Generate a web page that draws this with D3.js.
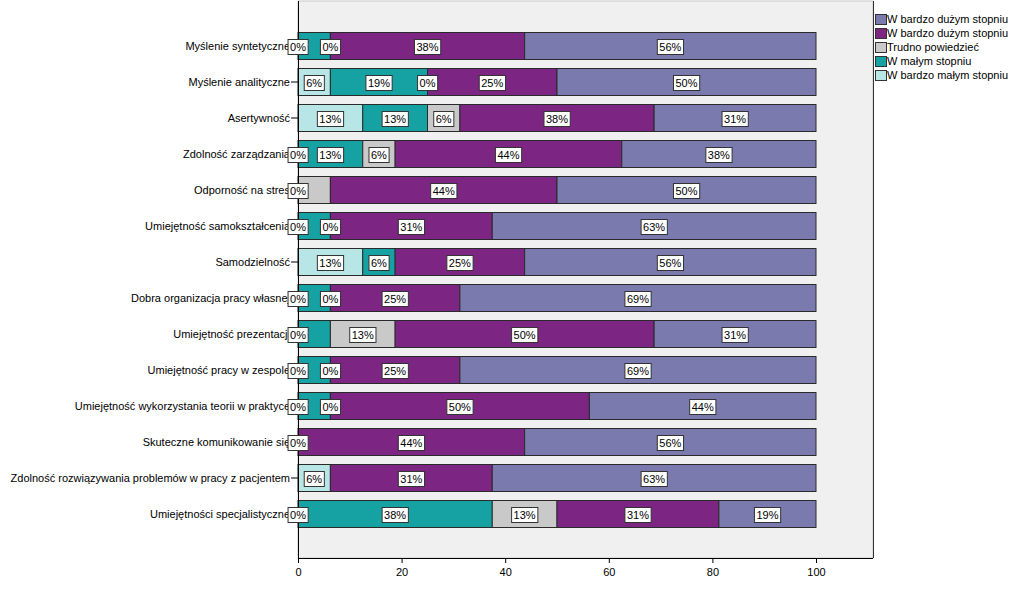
<!DOCTYPE html>
<html><head><meta charset="utf-8">
<script src="https://cdn.jsdelivr.net/npm/d3@7"></script>
<style>body{margin:0;background:#fff}svg{display:block;font-family:"Liberation Sans",Arial,sans-serif}</style>
</head><body><svg id="c" width="1011" height="613"></svg>
<script>
const categories = ["Myślenie syntetyczne","Myślenie analityczne","Asertywność","Zdolność zarządzania","Odporność na stres","Umiejętność samokształcenia","Samodzielność","Dobra organizacja pracy własnej","Umiejętność prezentacji","Umiejętność pracy w zespole","Umiejętność wykorzystania teorii w praktyce","Skuteczne komunikowanie się","Zdolność rozwiązywania problemów w pracy z pacjentem","Umiejętności specjalistyczne"];
const seriesNames = ["W bardzo małym stopniu","W małym stopniu","Trudno powiedzieć","W bardzo dużym stopniu","W bardzo dużym stopniu"];
const seriesColors = ["#b8e6e6","#16a2a2","#c9c9c9","#7c2583","#7a7aae"];
const bardzoMalym = [0,6.25,12.5,0,0,0,12.5,0,0,0,0,0,6.25,0];
const malym =       [6.25,18.75,12.5,12.5,0,6.25,6.25,6.25,6.25,6.25,6.25,0,0,37.5];
const trudno =      [0,0,6.25,6.25,6.25,0,0,0,12.5,0,0,0,0,12.5];
const duzym =       [37.5,25,37.5,43.75,43.75,31.25,25,25,50,25,50,43.75,31.25,31.25];
const bardzoDuzym = [56.25,50,31.25,37.5,50,62.5,56.25,68.75,31.25,68.75,43.75,56.25,62.5,18.75];
const xTicks = [0,20,40,60,80,100];
// labels SPSS hid because they overlapped: [category index, series index]
const hiddenLabels = [[0,1],[4,0],[4,2],[5,1],[6,2],[7,1],[8,1],[9,1],[10,1],[11,1],[11,2],[12,1],[12,2]];

const series = [bardzoMalym, malym, trudno, duzym, bardzoDuzym];
const svg = d3.select("#c");
const L = 298, R = 873, T = 1, B = 558;
const x = d3.scaleLinear().domain([0,111]).range([L, L + 111*5.18]);
const y = d3.scaleBand().domain(categories).range([28, 532]).paddingInner(0.25).paddingOuter(0.125);

svg.append("rect").attr("x",L).attr("y",T).attr("width",R-L).attr("height",B-T)
  .attr("fill","#f0f0f0").attr("stroke","#c8c8c8").attr("stroke-width",1);
svg.append("line").attr("x1",R+0.5).attr("x2",R+0.5).attr("y1",T).attr("y2",B).attr("stroke","#333");

const rows = categories.map((c,i)=>{ let acc=0; return series.map((s,k)=>{ const v=s[i]; const seg={c,i,k,x0:acc,x1:acc+v,v}; acc+=v; return seg;}); });
const segs = rows.flat();

svg.append("g").selectAll("rect").data(segs.filter(d=>d.v>0)).join("rect")
  .attr("x",d=>x(d.x0)).attr("width",d=>x(d.x1)-x(d.x0))
  .attr("y",d=>y(d.c)).attr("height",y.bandwidth())
  .attr("fill",d=>seriesColors[d.k]).attr("stroke","#2a2a2a").attr("stroke-width",1);

// axes
const xa = svg.append("g").attr("transform",`translate(0,${B})`)
  .call(d3.axisBottom(x).tickValues(xTicks).tickSize(5).tickSizeOuter(0));
xa.select(".domain").attr("d",`M${L},0.5H${R}`).attr("stroke","#000");
xa.selectAll("text").attr("font-size",11).attr("fill","#000").attr("font-family","Liberation Sans, Arial, sans-serif").attr("dy","0.9em");
const ya = svg.append("g").attr("transform",`translate(${L},0)`)
  .call(d3.axisLeft(y).tickSize(7).tickPadding(1).tickSizeOuter(0));
ya.select(".domain").attr("d",`M0.5,${T}V${B}`).attr("stroke","#000");
ya.selectAll("text").attr("font-size",11).attr("fill","#000").attr("font-family","Liberation Sans, Arial, sans-serif");

// value labels
const hidden = new Set(hiddenLabels.map(d=>d[0]+"_"+d[1]));
const lab = svg.append("g").selectAll("g").data(segs.filter(d=>!hidden.has(d.i+"_"+d.k))).join("g")
  .attr("transform",d=>`translate(${x((d.x0+d.x1)/2)},${y(d.c)+y.bandwidth()/2+1})`);
lab.append("text").text(d=>Math.round(d.v)+"%").attr("text-anchor","middle").attr("dy","0.36em")
  .attr("font-size",11).attr("fill","#000");
lab.each(function(){ const g=d3.select(this); const bb=g.select("text").node().getBBox();
  g.insert("rect","text").attr("x",bb.x-2).attr("y",-7.5).attr("width",bb.width+4).attr("height",15)
   .attr("fill","#fff").attr("stroke","#333").attr("stroke-width",1); });

// legend
const legOrder = [4,3,2,1,0];
const lg = svg.append("g").selectAll("g").data(legOrder).join("g")
  .attr("transform",(d,j)=>`translate(875,${14+j*14})`);
lg.append("rect").attr("x",0.5).attr("y",0.5).attr("width",11).attr("height",10)
  .attr("fill",d=>seriesColors[d]).attr("stroke","#333");
lg.append("text").attr("x",12).attr("y",5.5).attr("dy","0.36em").attr("font-size",11).attr("fill","#000")
  .text(d=>seriesNames[d]);
</script></body></html>
